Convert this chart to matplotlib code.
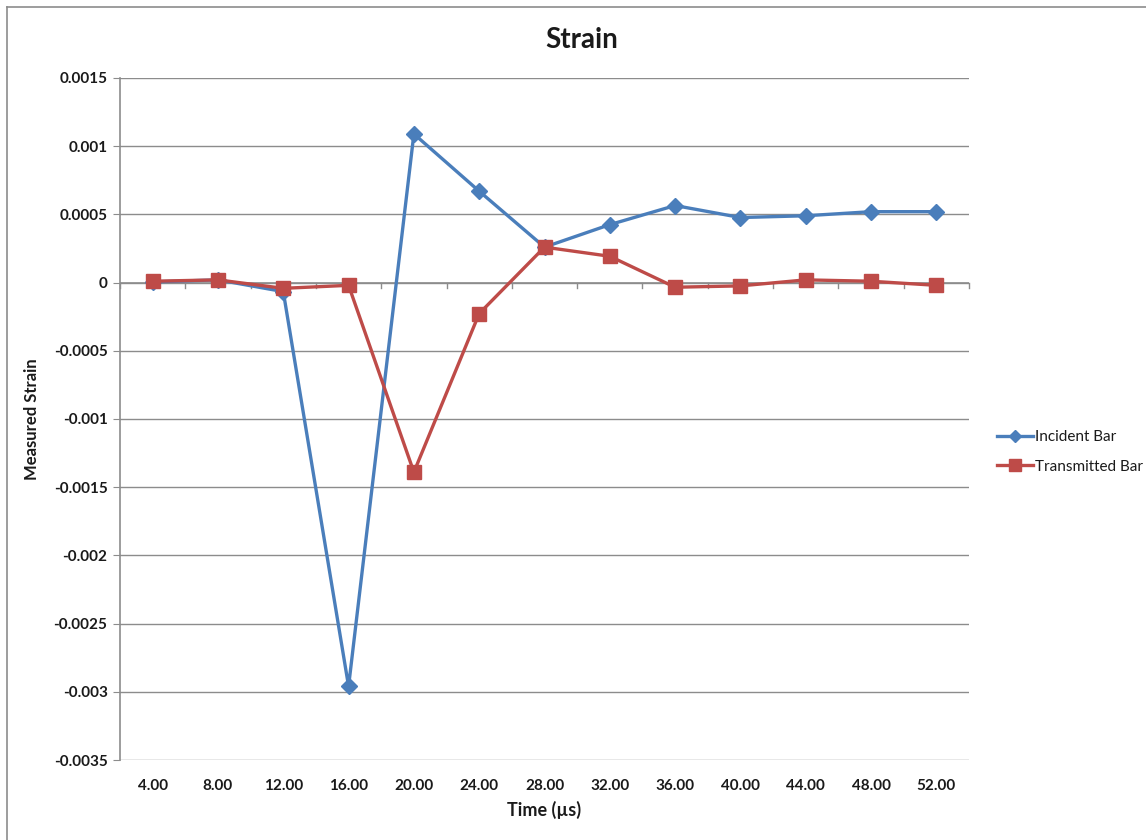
import matplotlib
matplotlib.use("Agg")
import matplotlib.pyplot as plt
from matplotlib.lines import Line2D

# Data
time_labels = ["4.00", "8.00", "12.00", "16.00", "20.00", "24.00", "28.00",
               "32.00", "36.00", "40.00", "44.00", "48.00", "52.00"]
incident_bar = [0.000005, 0.00002, -0.000066, -0.00296, 0.00109, 0.00067,
                0.00026, 0.000425, 0.000565, 0.000477, 0.00049, 0.00052, 0.00052]
transmitted_bar = [0.00001, 0.00002, -0.000042, -0.00002, -0.00139, -0.000227,
                   0.00026, 0.000193, -0.000034, -0.000024, 0.00002, 0.00001, -0.00002]
y_ticks = [0.0015, 0.001, 0.0005, 0, -0.0005, -0.001, -0.0015, -0.002,
           -0.0025, -0.003, -0.0035]
y_tick_labels = ["0.0015", "0.001", "0.0005", "0", "-0.0005", "-0.001", "-0.0015",
                 "-0.002", "-0.0025", "-0.003", "-0.0035"]

plt.rcParams['font.family'] = ['Lato', 'DejaVu Sans']

BLUE = "#4A7EBB"
RED = "#BE4B48"
GRID = "#8C8C8C"
TEXT = "#1a1a1a"

fig = plt.figure(figsize=(11.46, 8.4), dpi=100)
W, H = 1146, 840
ax = fig.add_axes([120 / W, 1 - 760 / H, (969 - 120) / W, (760 - 78) / H])

x = list(range(len(time_labels)))

ax.set_xlim(-0.5, len(time_labels) - 0.5)
ax.set_ylim(-0.0035, 0.0015)

# Horizontal gridlines
for yv in y_ticks:
    ax.axhline(yv, color=GRID, lw=1.0, zorder=1)

# Category axis crossing at zero, with ticks between categories
ax.axhline(0, color=GRID, lw=1.2, zorder=1.5)
for b in range(len(time_labels) + 1):
    ax.plot([b - 0.5, b - 0.5], [0, -0.00004], color=GRID, lw=1.0,
            zorder=1.5, clip_on=False)

ax.plot(x, incident_bar, color=BLUE, lw=2.4, marker="D", markersize=8,
        markerfacecolor=BLUE, markeredgecolor=BLUE, zorder=3,
        label="Incident Bar")
ax.plot(x, transmitted_bar, color=RED, lw=2.4, marker="s", markersize=10,
        markerfacecolor=RED, markeredgecolor=RED, zorder=4,
        label="Transmitted Bar")

for s in ["top", "right", "bottom"]:
    ax.spines[s].set_visible(False)
ax.spines["left"].set_color(GRID)
ax.spines["left"].set_linewidth(1.2)

ax.set_yticks(y_ticks)
ax.set_yticklabels(y_tick_labels, fontsize=11, fontweight="bold", color=TEXT)
ax.tick_params(axis="y", length=5, color=GRID, pad=4)

ax.set_xticks(x)
ax.set_xticklabels(time_labels, fontsize=11, fontweight="bold", color=TEXT)
ax.tick_params(axis="x", length=0, pad=14)

ax.set_xlabel("Time (µs)", fontsize=13, fontweight="bold", color=TEXT)
ax.xaxis.set_label_coords(0.5, -0.06)
ax.set_ylabel("Measured Strain", fontsize=12, fontweight="bold", color=TEXT)
ax.yaxis.set_label_coords(-0.094, 0.5)
fig.text(582 / W, 1 - 40 / H, "Strain", fontsize=20, fontweight="bold",
         ha="center", va="center", color=TEXT)

leg = fig.legend(handles=[
    Line2D([], [], color=BLUE, lw=2.4, marker="D", markersize=6),
    Line2D([], [], color=RED, lw=2.4, marker="s", markersize=8)],
    labels=["Incident Bar", "Transmitted Bar"],
    loc="center left", bbox_to_anchor=(983 / W, 1 - 452 / H),
    frameon=False, fontsize=11, handlelength=2.4, handletextpad=0.1,
    labelspacing=1.0)
for t in leg.get_texts():
    t.set_color(TEXT)

# Chart area border
fig.add_artist(Line2D([7 / W, 7 / W], [0, 1 - 7 / H], color="#8C8C8C",
                      lw=1.2, transform=fig.transFigure))
fig.add_artist(Line2D([7 / W, 1], [1 - 7 / H, 1 - 7 / H], color="#8C8C8C",
                      lw=1.2, transform=fig.transFigure))

fig.savefig("out.png", dpi=100, facecolor="white")
